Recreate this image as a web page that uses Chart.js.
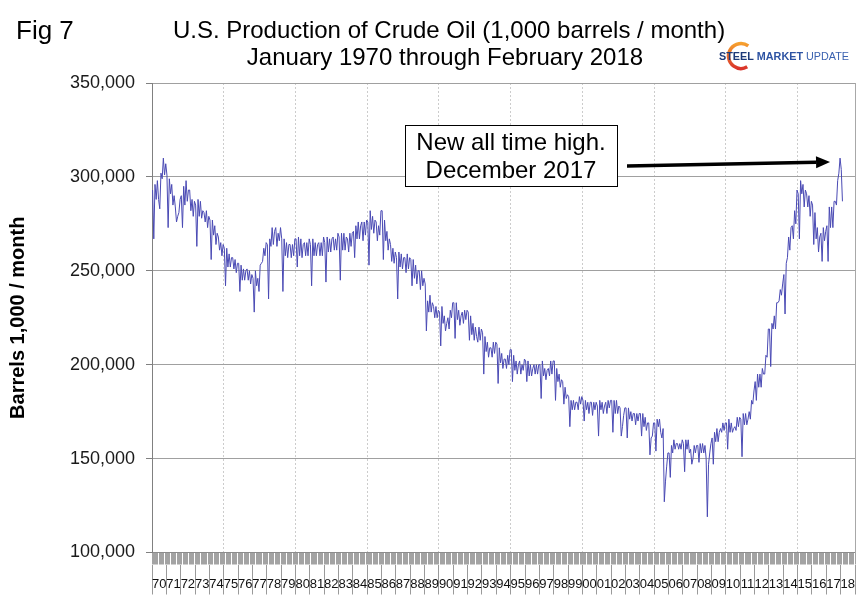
<!DOCTYPE html>
<html lang="en">
<head>
<meta charset="UTF-8">
<title>U.S. Production of Crude Oil</title>
<script src="https://cdn.jsdelivr.net/npm/chart.js@4.4.1/dist/chart.umd.min.js"></script>
<style>
  html, body { margin: 0; padding: 0; background: #fff; }
  #wrap { position: relative; width: 867px; height: 604px; }
</style>
</head>
<body>
<div id="wrap"><canvas id="oilChart"></canvas></div>
<script>
// U.S. crude oil production.
// values are in thousands of the axis unit (1,000 barrels / month), Jan..Dec per year
var prod1970s = [
  293, 267, 296, 288, 298, 288, 283, 302, 299, 310, 301, 307,  // 1970
  301, 273, 299, 291, 296, 285, 290, 284, 276, 279, 281, 288,  // 1971
  290, 273, 295, 285, 298, 287, 293, 293, 282, 288, 279, 287,  // 1972
  285, 263, 288, 279, 287, 278, 282, 281, 276, 282, 273, 279,  // 1973
  277, 256, 277, 269, 274, 264, 270, 268, 261, 265, 258, 264,  // 1974
  262, 242, 262, 252, 259, 252, 257, 257, 251, 256, 249, 254,  // 1975
  254, 239, 253, 245, 251, 245, 250, 251, 245, 250, 243, 248,  // 1976
  246, 228, 250, 242, 246, 239, 253, 254, 255, 262, 258, 265,  // 1977
  264, 235, 267, 263, 273, 264, 271, 273, 263, 270, 266, 273,  // 1978
  267, 239, 267, 258, 265, 257, 264, 264, 257, 264, 258, 267   // 1979
];
var prod1980s = [
  267, 252, 268, 258, 267, 257, 264, 265, 258, 265, 258, 267,  // 1980
  264, 242, 267, 258, 265, 258, 264, 265, 258, 265, 258, 268,  // 1981
  265, 244, 268, 260, 267, 260, 267, 268, 261, 267, 261, 270,  // 1982
  268, 245, 270, 261, 270, 261, 268, 267, 260, 270, 263, 270,  // 1983
  271, 257, 274, 267, 276, 267, 274, 276, 266, 276, 269, 277,  // 1984
  276, 253, 282, 272, 279, 270, 277, 276, 266, 274, 269, 282,  // 1985
  282, 256, 277, 266, 271, 261, 267, 264, 255, 262, 254, 260,  // 1986
  257, 235, 260, 252, 259, 251, 257, 257, 249, 259, 251, 257,  // 1987
  256, 242, 256, 246, 253, 243, 250, 250, 240, 250, 242, 246,  // 1988
  243, 218, 234, 228, 237, 228, 233, 231, 225, 231, 225, 229   // 1989
];
var prod1990s = [
  228, 210, 231, 222, 226, 218, 222, 225, 219, 229, 225, 233,  // 1990
  233, 214, 233, 224, 229, 221, 226, 228, 222, 229, 224, 229,  // 1991
  228, 213, 226, 216, 222, 213, 220, 215, 212, 220, 213, 219,  // 1992
  217, 195, 215, 207, 212, 204, 209, 209, 204, 212, 206, 212,  // 1993
  211, 190, 209, 201, 206, 198, 203, 203, 198, 205, 200, 208,  // 1994
  208, 191, 205, 197, 202, 195, 200, 202, 195, 200, 197, 203,  // 1995
  202, 191, 202, 194, 200, 194, 198, 200, 195, 200, 195, 200,  // 1996
  200, 182, 202, 194, 198, 192, 197, 198, 194, 202, 195, 202,  // 1997
  202, 181, 198, 191, 195, 188, 192, 191, 179, 188, 182, 184,  // 1998
  183, 167, 181, 176, 181, 176, 180, 180, 176, 183, 179, 183   // 1999
];
var prod2000s = [
  181, 170, 181, 176, 180, 174, 180, 180, 173, 180, 176, 180,  // 2000
  178, 162, 181, 176, 180, 174, 178, 180, 174, 181, 177, 181,  // 2001
  181, 164, 181, 174, 181, 174, 178, 177, 162, 167, 173, 177,  // 2002
  177, 161, 177, 171, 175, 170, 174, 174, 168, 174, 170, 174,  // 2003
  174, 162, 174, 167, 172, 165, 169, 169, 152, 161, 162, 169,  // 2004
  169, 154, 171, 167, 171, 164, 161, 166, 127, 138, 146, 153,  // 2005
  153, 140, 157, 153, 160, 155, 158, 158, 155, 158, 155, 160,  // 2006
  158, 143, 160, 155, 160, 153, 155, 147, 150, 157, 153, 157,  // 2007
  157, 148, 158, 153, 158, 153, 157, 150, 119, 147, 153, 158,  // 2008
  161, 147, 164, 159, 166, 159, 164, 166, 164, 169, 165, 169   // 2009
];
var prod2010s = [
  169, 155, 171, 164, 169, 164, 166, 167, 165, 172, 167, 172,  // 2010
  171, 151, 174, 168, 174, 168, 171, 175, 171, 181, 179, 186,  // 2011
  191, 181, 195, 188, 195, 188, 198, 195, 195, 205, 204, 219,  // 2012
  219, 199, 222, 219, 226, 219, 233, 233, 234, 240, 237, 243,  // 2013
  248, 227, 254, 257, 268, 261, 273, 274, 267, 282, 275, 293,  // 2014
  291, 267, 298, 291, 296, 284, 293, 291, 284, 290, 279, 287,  // 2015
  285, 264, 281, 267, 273, 260, 268, 270, 255, 273, 266, 271,  // 2016
  274, 255, 284, 273, 284, 273, 287, 287, 285, 298, 302, 310,  // 2017
  304, 287                                                     // 2018 (Jan, Feb)
];

var yearLabels = ['70','71','72','73','74','75','76','77','78','79',
                  '80','81','82','83','84','85','86','87','88','89',
                  '90','91','92','93','94','95','96','97','98','99',
                  '00','01','02','03','04','05','06','07','08','09',
                  '10','11','12','13','14','15','16','17','18'];

var titleLines = ['U.S. Production of Crude Oil (1,000 barrels / month)',
                  'January 1970 through February 2018'];
var noteLines = ['New all time high.', 'December 2017'];
var peakMonth = 575;   // December 2017

var production = [].concat(prod1970s, prod1980s, prod1990s, prod2000s, prod2010s);
var points = production.map(function (v, i) { return { x: i, y: v * 1000 }; });

// one category per month, twelve per year label
var nMonths = yearLabels.length * 12;
var monthEdges = [];
for (var m = 0; m <= nMonths; m++) monthEdges.push(m - 0.5);
var yearCenters = yearLabels.map(function (_, i) { return i * 12 + 5.5; });

var FONT = '"Liberation Sans", Arial, Helvetica, sans-serif';
Chart.defaults.font.family = FONT;

var decor = {
  id: 'decor',
  afterDraw: function (chart) {
    var ctx = chart.ctx;
    var xs = chart.scales.x, ys = chart.scales.y;
    ctx.save();
    ctx.fillStyle = '#000';
    ctx.textBaseline = 'middle';

    ctx.textAlign = 'left';
    ctx.font = '26px ' + FONT;
    ctx.fillText('Fig 7', 16, 32);

    ctx.textAlign = 'center';
    ctx.font = '24px ' + FONT;
    ctx.fillText(titleLines[0], 449, 31);
    ctx.fillText(titleLines[1], 445, 58);

    // logo
    var grad = ctx.createLinearGradient(0, 43, 0, 69);
    grad.addColorStop(0, '#f6a12e');
    grad.addColorStop(1, '#d9322a');
    ctx.strokeStyle = grad;
    ctx.lineWidth = 3.5;
    ctx.beginPath();
    ctx.arc(741, 56, 12.5, -0.95, 1.05, true);
    ctx.stroke();
    ctx.textAlign = 'left';
    var lx = 719;
    ctx.font = 'bold 10.8px ' + FONT;
    ctx.fillStyle = '#1d3a78';
    ctx.fillText('STEEL', lx, 57);
    lx += ctx.measureText('STEEL ').width;
    ctx.fillStyle = '#2d53a3';
    ctx.fillText('MARKET', lx, 57);
    lx += ctx.measureText('MARKET ').width;
    ctx.font = '10.8px ' + FONT;
    ctx.fillStyle = '#3b62b0';
    ctx.fillText('UPDATE', lx, 57);

    // callout box
    ctx.fillStyle = '#fff';
    ctx.fillRect(405.5, 125.5, 212, 61);
    ctx.strokeStyle = '#000';
    ctx.lineWidth = 1;
    ctx.strokeRect(405.5, 125.5, 212, 61);
    ctx.fillStyle = '#000';
    ctx.textAlign = 'center';
    ctx.font = '24px ' + FONT;
    ctx.fillText(noteLines[0], 511, 143);
    ctx.fillText(noteLines[1], 511, 171);

    // arrow to the peak
    var tipX = xs.getPixelForValue(peakMonth) - 10;
    var tipY = ys.getPixelForValue(308000);
    var sx = 627, sy = 166;
    var ang = Math.atan2(tipY - sy, tipX - sx);
    var hl = 14, hw = 6;
    var bx = tipX - hl * Math.cos(ang), by = tipY - hl * Math.sin(ang);
    ctx.lineWidth = 3.5;
    ctx.beginPath();
    ctx.moveTo(sx, sy);
    ctx.lineTo(bx, by);
    ctx.stroke();
    ctx.beginPath();
    ctx.moveTo(tipX, tipY);
    ctx.lineTo(bx + hw * Math.sin(ang), by - hw * Math.cos(ang));
    ctx.lineTo(bx - hw * Math.sin(ang), by + hw * Math.cos(ang));
    ctx.closePath();
    ctx.fill();
    ctx.restore();
  }
};

new Chart(document.getElementById('oilChart'), {
  type: 'line',
  data: {
    datasets: [{
      data: points,
      borderColor: '#4a4ab4',
      borderWidth: 1,
      pointRadius: 0,
      tension: 0,
      xAxisID: 'x',
      yAxisID: 'y'
    }]
  },
  options: {
    responsive: true,
    maintainAspectRatio: false,
    animation: false,
    layout: { padding: { top: 83, left: 0, right: 0, bottom: 0 } },
    plugins: { legend: { display: false }, tooltip: { enabled: false } },
    scales: {
      x: {
        type: 'linear', position: 'bottom', weight: 0,
        min: -0.5, max: nMonths - 0.5,
        afterBuildTicks: function (s) { s.ticks = monthEdges.map(function (v) { return { value: v }; }); },
        afterFit: function (s) { s.height = 12; },
        ticks: { display: false, autoSkip: false },
        grid: {
          drawOnChartArea: true,
          tickLength: 12,
          tickColor: '#a3a3a3',
          color: function (c) {
            return (c.index % 60 === 0 && c.index > 0 && c.index < nMonths) ? '#cccccc' : 'rgba(0,0,0,0)';
          }
        },
        border: { display: true, color: '#8c8c8c', width: 1, dash: [2, 2] }
      },
      xYear: {
        type: 'linear', position: 'bottom', weight: 1,
        min: -0.5, max: nMonths - 0.5,
        afterBuildTicks: function (s) { s.ticks = yearCenters.map(function (v) { return { value: v }; }); },
        afterFit: function (s) { s.height = 39.5; },
        ticks: {
          autoSkip: false, maxRotation: 0, padding: -18,
          color: '#111', font: { size: 13 },
          callback: function (v, i) { return yearLabels[i]; }
        },
        grid: { offset: true, drawOnChartArea: false, tickLength: 30, color: '#9a9a9a', tickColor: '#9a9a9a' },
        border: { display: false }
      },
      y: {
        position: 'left',
        min: 100000, max: 350000,
        afterFit: function (s) { s.width = 152; },
        ticks: {
          stepSize: 50000, padding: 11, color: '#1a1a1a', font: { size: 18 },
          callback: function (v) { return v.toLocaleString('en-US'); }
        },
        grid: { color: '#a0a0a0', tickLength: 6, tickColor: '#808080' },
        border: { color: '#808080' },
        title: {
          display: true, text: 'Barrels 1,000 / month', color: '#000',
          font: { size: 20, weight: 'bold' }, padding: { top: 6, bottom: 0 }
        }
      },
      yR: {
        position: 'right',
        min: 100000, max: 350000,
        afterFit: function (s) { s.width = 12; },
        ticks: { display: false },
        grid: { display: false },
        border: { color: '#a8a8a8' }
      }
    }
  },
  plugins: [decor]
});
</script>
</body>
</html>
